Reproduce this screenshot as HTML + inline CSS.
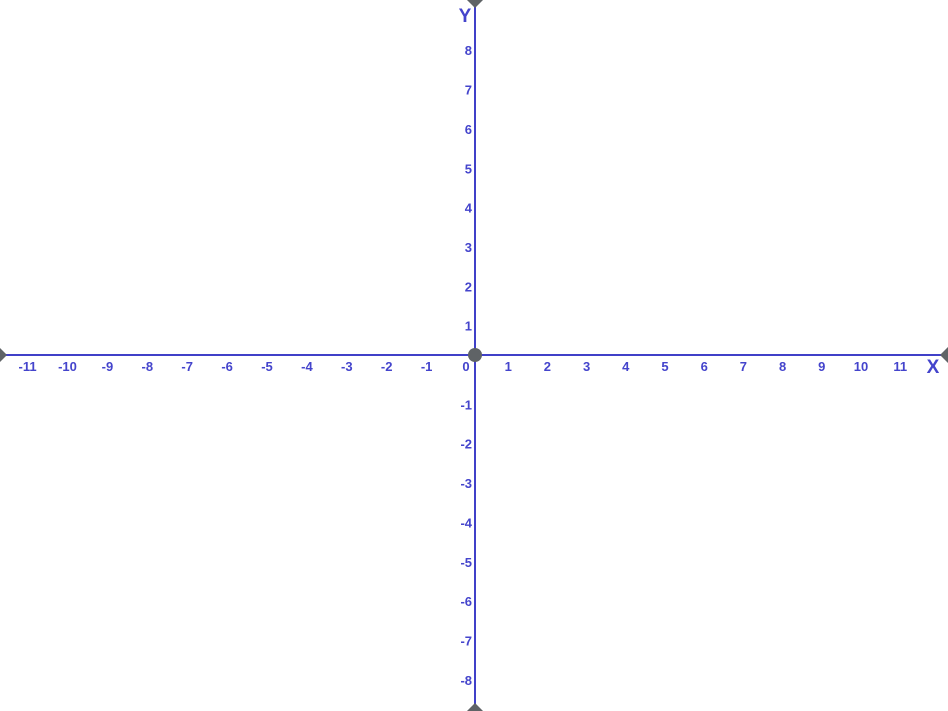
<!DOCTYPE html>
<html><head><meta charset="utf-8"><style>
html,body{margin:0;padding:0;background:#fff;}
svg{display:block;}
text{font-family:"Liberation Sans",sans-serif;font-weight:bold;fill:#4444cc;}
</style></head><body>
<svg id="chart" width="948" height="711" viewBox="0 0 948 711">
<line x1="0" y1="355" x2="948" y2="355" stroke="#4040c8" stroke-width="2"/>
<line x1="475" y1="0" x2="475" y2="711" stroke="#4040c8" stroke-width="2"/>
<circle cx="475" cy="355" r="7" fill="#5f6366"/>
<path d="M0 348 L7 355 L0 362 Z" fill="#5f6366"/>
<path d="M948 347 L940 355 L948 363 Z" fill="#5f6366"/>
<path d="M467 0 L475 8 L483 0 Z" fill="#5f6366"/>
<path d="M467 711 L475 703 L483 711 Z" fill="#5f6366"/>
<text x="933" y="373" font-size="19" text-anchor="middle">X</text>
<text x="465" y="22" font-size="19" text-anchor="middle">Y</text>
<g id="labels"></g>
</svg>
<script>
const xTicks = [-11,-10,-9,-8,-7,-6,-5,-4,-3,-2,-1,0,1,2,3,4,5,6,7,8,9,10,11];
const yTicks = [-8,-7,-6,-5,-4,-3,-2,-1,1,2,3,4,5,6,7,8];
const ox = 475, oy = 355, unitPos = 39.2, unitNeg = 39.9, unitY = 39.35;
const sx = v => v >= 0 ? ox + v * unitPos : ox + v * unitNeg;
const sy = v => oy - v * unitY;
const g = document.getElementById('labels');
const NS = 'http://www.w3.org/2000/svg';
xTicks.forEach(v => {
  const t = document.createElementNS(NS, 'text');
  
  
  const cx = v === 0 ? 466 : sx(v) - (v > 0 ? 6 : 8.5);
  t.setAttribute('x', cx);
  t.setAttribute('y', 371);
  t.setAttribute('font-size', '13');
  t.setAttribute('text-anchor', 'middle');
  t.textContent = v;
  g.appendChild(t);
});
yTicks.forEach(v => {
  const t = document.createElementNS(NS, 'text');
  
  
  t.setAttribute('x', 472);
  t.setAttribute('y', sy(v) + 15);
  t.setAttribute('font-size', '13');
  t.setAttribute('text-anchor', 'end');
  t.textContent = v;
  g.appendChild(t);
});
</script>
</body></html>
